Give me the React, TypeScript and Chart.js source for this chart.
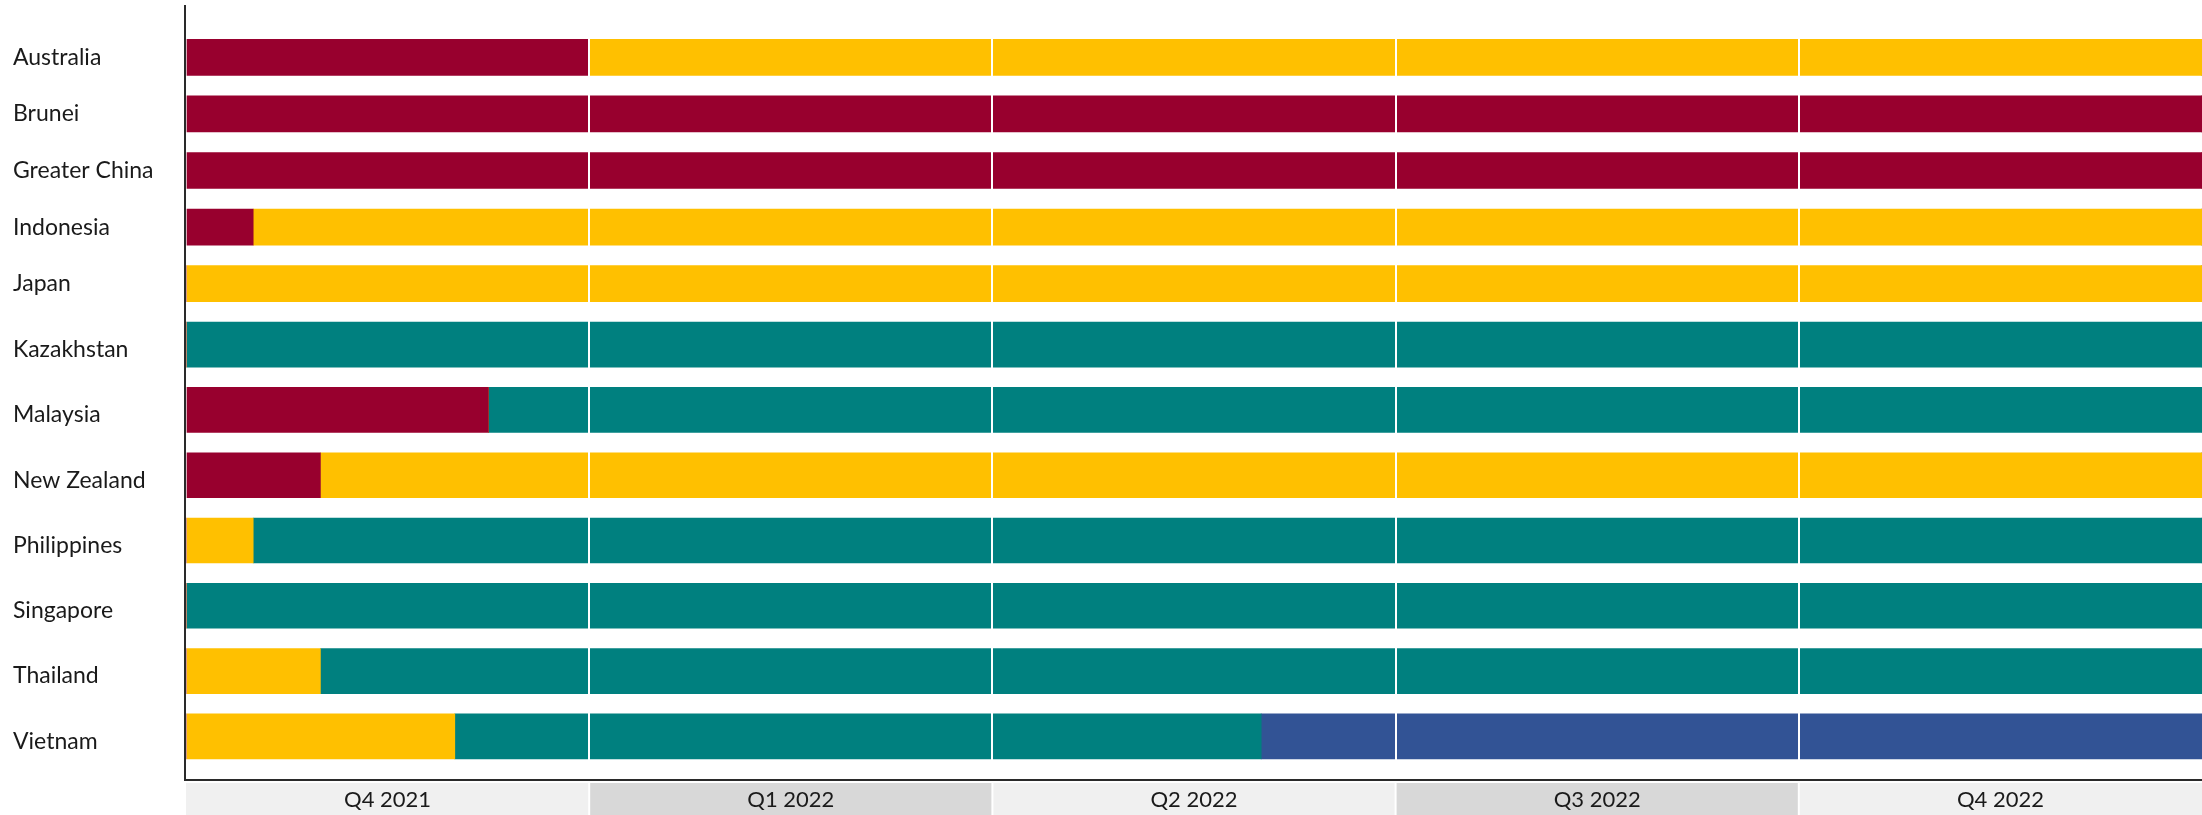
import React, { useEffect, useRef } from "react";
import { Chart, registerables } from "chart.js";

Chart.register(...registerables);

// ---------- data ----------
const countries = [
  "Australia",
  "Brunei",
  "Greater China",
  "Indonesia",
  "Japan",
  "Kazakhstan",
  "Malaysia",
  "New Zealand",
  "Philippines",
  "Singapore",
  "Thailand",
  "Vietnam",
];
const quarterLabels = ["Q4 2021", "Q1 2022", "Q2 2022", "Q3 2022", "Q4 2022"];
const monthsPerQuarter = 3;

// months spent in each status (stacked in this order)
const redMonths = [3, 15, 15, 0.5, 0, 0, 2.25, 1, 0, 0, 0, 0];
const yellowMonths = [12, 0, 0, 14.5, 15, 0, 0, 14, 0.5, 0, 1, 2];
const tealMonths = [0, 0, 0, 0, 0, 15, 12.75, 0, 14.5, 15, 14, 6];
const blueMonths = [0, 0, 0, 0, 0, 0, 0, 0, 0, 0, 0, 7];

const seriesNames = ["Red", "Yellow", "Teal", "Blue"];
const seriesColors = ["#98002E", "#FFC000", "#00807F", "#325395"];
const topRowCount = 5;

// ---------- styling ----------
const FONT = "Lato, 'Open Sans', sans-serif";
const TEXT_COLOR = "#1a1a1a";
const AXIS_COLOR = "#2a2a2a";
const totalMonths = quarterLabels.length * monthsPerQuarter;

const framePlugin = {
  id: "frame",
  afterDraw(chart: any, _args: any, opts: any) {
    const { ctx, chartArea } = chart;
    const xs = chart.scales.x;
    ctx.save();
    if (opts.bands) {
      const top = opts.bandTop;
      const bottom = chart.height;
      for (let q = 0; q < quarterLabels.length; q++) {
        const l = xs.getPixelForValue(q * monthsPerQuarter);
        const r = xs.getPixelForValue((q + 1) * monthsPerQuarter);
        const gl = q > 0 ? 1 : 0;
        const gr = q < quarterLabels.length - 1 ? 1 : 0;
        ctx.fillStyle = q % 2 === 0 ? "#F0F0F0" : "#D8D8D8";
        ctx.fillRect(l + gl, top, r - l - gl - gr, bottom - top);
        ctx.fillStyle = TEXT_COLOR;
        ctx.font = `22px ${FONT}`;
        ctx.textAlign = "center";
        ctx.textBaseline = "middle";
        ctx.fillText(quarterLabels[q], (l + r) / 2, (top + bottom) / 2 + 1);
      }
    }
    ctx.strokeStyle = AXIS_COLOR;
    ctx.lineWidth = 2;
    ctx.beginPath();
    ctx.moveTo(chartArea.left - 1, opts.lineTop);
    ctx.lineTo(chartArea.left - 1, opts.lineBottom);
    ctx.stroke();
    if (opts.baseline != null) {
      ctx.beginPath();
      ctx.moveTo(chartArea.left - 2, opts.baseline);
      ctx.lineTo(chartArea.right, opts.baseline);
      ctx.stroke();
    }
    ctx.restore();
  },
};

function makeConfig(
  start: number,
  end: number,
  barThickness: number,
  padTop: number,
  xHeight: number,
  labelOffset: number,
  frame: any
) {
  const labels = countries.slice(start, end);
  const series = [redMonths, yellowMonths, tealMonths, blueMonths];
  return {
    type: "bar",
    data: {
      labels,
      datasets: series.map((s, i) => ({
        label: seriesNames[i],
        data: s.slice(start, end),
        backgroundColor: seriesColors[i],
        borderWidth: 0,
        barThickness,
      })),
    },
    plugins: [framePlugin],
    options: {
      indexAxis: "y",
      animation: false,
      responsive: true,
      maintainAspectRatio: false,
      layout: { padding: { top: padTop, left: 13, right: 0, bottom: 0 } },
      plugins: {
        legend: { display: false },
        tooltip: { enabled: false },
        frame,
      },
      scales: {
        x: {
          type: "linear",
          stacked: true,
          min: 0,
          max: totalMonths,
          ticks: { display: false, stepSize: monthsPerQuarter },
          border: { display: false },
          grid: {
            z: 1,
            drawTicks: false,
            lineWidth: 2,
            color: (c: any) =>
              c.tick && c.tick.value > 0 && c.tick.value < totalMonths ? "#FFFFFF" : "rgba(0,0,0,0)",
          },
          afterFit: (scale: any) => {
            scale.height = xHeight;
            scale.paddingLeft = 0;
            scale.paddingRight = 0;
          },
        },
        y: {
          stacked: true,
          grid: { display: false },
          border: { display: false },
          ticks: {
            crossAlign: "far",
            color: TEXT_COLOR,
            font: { family: FONT, size: 23 },
            padding: 0,
            labelOffset,
          },
          afterFit: (scale: any) => {
            scale.width = 173;
            scale.paddingTop = 0;
            scale.paddingBottom = 0;
          },
        },
      },
    },
  } as any;
}

export default function App() {
  const topRef = useRef<HTMLCanvasElement>(null);
  const bottomRef = useRef<HTMLCanvasElement>(null);

  useEffect(() => {
    document.documentElement.style.overflow = "hidden";
    const top = new Chart(
      topRef.current as HTMLCanvasElement,
      makeConfig(0, topRowCount, 36, 29, 0, 0, { lineTop: 5, lineBottom: 312 })
    );
    const bottom = new Chart(
      bottomRef.current as HTMLCanvasElement,
      makeConfig(topRowCount, countries.length, 45, 0, 46, 5, {
        lineTop: 0,
        lineBottom: 469,
        baseline: 468,
        bands: true,
        bandTop: 471,
      })
    );
    return () => {
      top.destroy();
      bottom.destroy();
    };
  }, []);

  return (
    <div style={{ position: "absolute", left: 0, top: 0, width: 2202, height: 815, background: "#fff" }}>
      <div style={{ position: "absolute", left: 0, top: 0, width: 2202, height: 312 }}>
        <canvas ref={topRef} />
      </div>
      <div style={{ position: "absolute", left: 0, top: 312, width: 2202, height: 503 }}>
        <canvas ref={bottomRef} />
      </div>
    </div>
  );
}
